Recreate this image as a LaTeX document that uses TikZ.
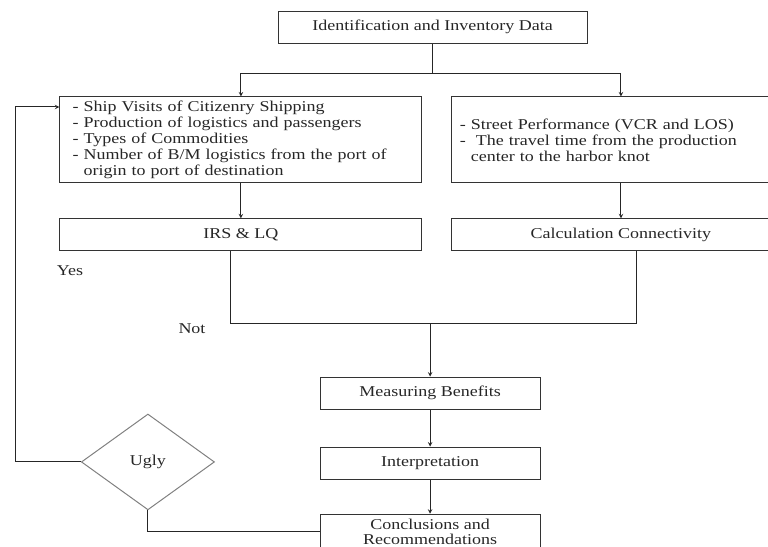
\documentclass[tikz,border=0pt]{standalone}
\usepackage{fontspec}
\setmainfont{Liberation Serif}[FakeStretch=1.2]
\usetikzlibrary{positioning,shapes.geometric}

\begin{document}
\begin{tikzpicture}[
  font=\fontsize{15}{16}\selectfont,
  stepbox/.style={rectangle, draw=black!80, line width=1pt, minimum height=1.125cm, text=black!85},
  link/.style={line width=1pt, black!85},
  linkarrow/.style={link, ->, >=stealth}
]

\useasboundingbox (0,0) rectangle (27,-19.23);
\clip (0,0) rectangle (27,-19.23);

% Top Layer
\node[stepbox, minimum width=10.86cm] (data) at (15.21,-0.95) {Identification and Inventory Data};

% Data Groups
\node[stepbox, minimum width=12.73cm, minimum height=3.02cm, inner xsep=0.45cm, inner ysep=2pt,
      text width=11.83cm, align=left] (ship) at (8.47,-4.92) {
  - Ship Visits of Citizenry Shipping\\
  - Production of logistics and passengers\\
  - Types of Commodities\\
  - Number of B/M logistics from the port of\\
  \phantom{- }origin to port of destination
};

\node[stepbox, minimum width=11.88cm, minimum height=3.02cm, inner xsep=0.28cm, inner ysep=2pt,
      text width=11.32cm, align=left] (street) at (21.83,-4.92) {
  - Street Performance (VCR and LOS)\\
  -\ \ The travel time from the production\\
  \phantom{- }center to the harbor knot
};

% Calculation Layer
\node[stepbox, minimum width=12.73cm, below=1.23cm of ship] (irs) {IRS \& LQ};
\node[stepbox, minimum width=11.88cm, below=1.23cm of street] (calc) {Calculation Connectivity};

% Result Layer
\node[stepbox, minimum width=7.73cm] (measure) at (15.12,-13.82) {Measuring Benefits};
\node[stepbox, minimum width=7.73cm, below=1.30cm of measure] (interp) {Interpretation};
\node[stepbox, minimum width=7.73cm, minimum height=1.25cm, inner ysep=0pt, align=center,
      font=\fontsize{15}{15}\selectfont, below=1.2cm of interp] (concl) {
  Conclusions and\\ Recommendations
};

% Decision
\node[diamond, draw=black!50, line width=1pt, minimum width=4.68cm, minimum height=3.37cm,
      aspect=1.39, inner sep=0pt, text=black!85] (ugly) at (5.20,-16.24) {Ugly};

% Labels
\node[text=black!85] (yes) at (2.46,-9.53) {Yes};
\node[text=black!85] (not) at (6.75,-11.57) {Not};

% Arrows
\draw[link] (data.south) -- ++(0,-1.06) coordinate (split);
\draw[linkarrow] (split) -| (ship.north);
\draw[linkarrow] (split) -| (street.north);
\draw[linkarrow] (ship.south) -- (irs.north);
\draw[linkarrow] (street.south) -- (calc.north);

\coordinate (merge) at (15.12,-11.36);
\draw[link] ([xshift=-0.35cm]irs.south) |- (merge) -| ([xshift=0.53cm]calc.south);
\draw[linkarrow] (merge) -- (measure.north);
\draw[linkarrow] (measure.south) -- (interp.north);
\draw[linkarrow] (interp.south) -- (concl.north);

\coordinate (back) at (0.56,-3.76);
\draw[linkarrow] (ugly.west) -| (back) -- (back -| ship.west);
\draw[link] (ugly.south) |- (concl.west);

\end{tikzpicture}
\end{document}
